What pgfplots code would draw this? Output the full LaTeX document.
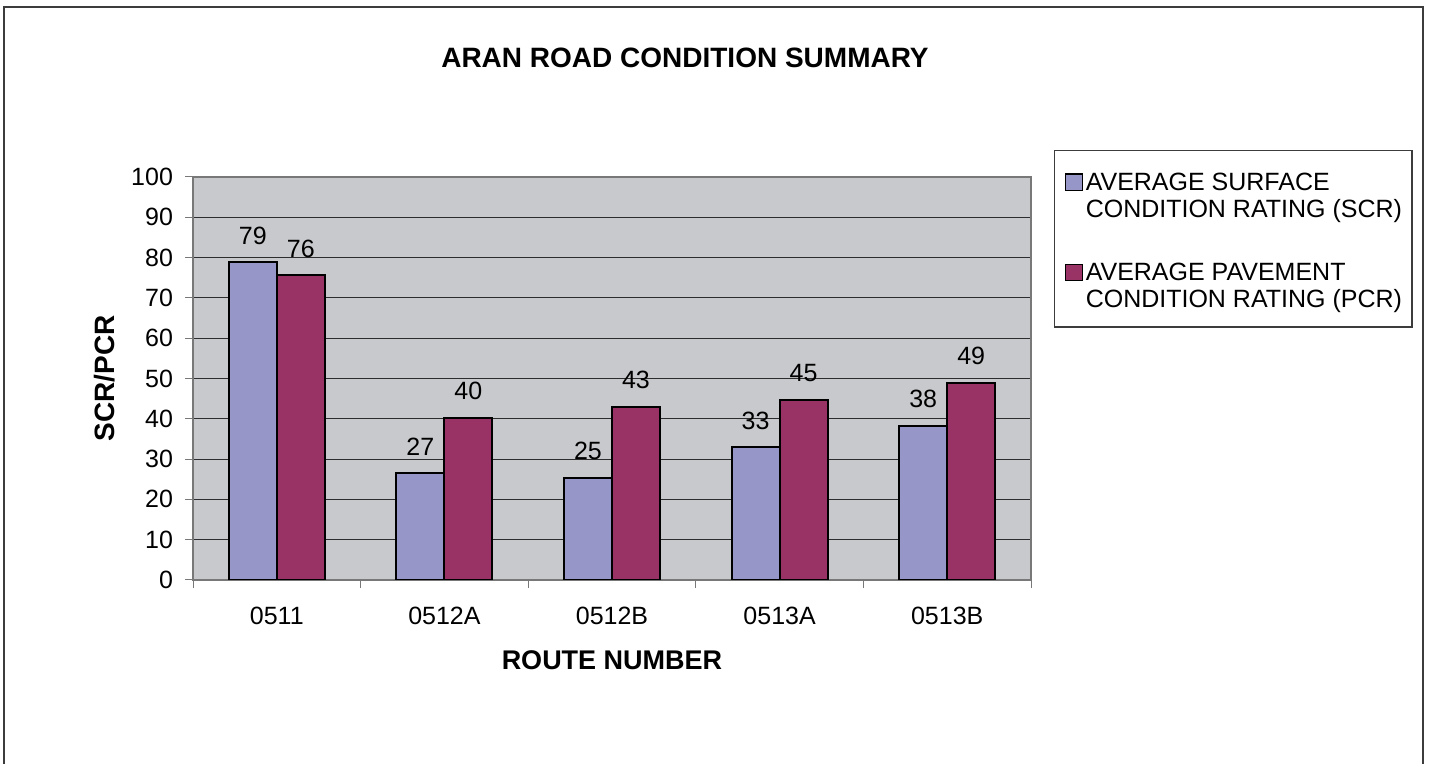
\documentclass[border=0pt]{standalone}
\usepackage{pgfplots}
\pgfplotsset{compat=1.18}
\usepackage{fontspec}
\setmainfont{Liberation Sans}
\definecolor{scr}{RGB}{150,150,200}
\definecolor{pcr}{RGB}{153,51,102}
\definecolor{plotbg}{RGB}{200,201,204}
\definecolor{gridc}{RGB}{45,45,45}
\definecolor{axisc}{RGB}{120,120,120}
\definecolor{framec}{RGB}{60,60,60}
\begin{document}
\begin{tikzpicture}
\useasboundingbox (0pt,0pt) rectangle (715.5pt,382pt);
\draw[framec, line width=0.8pt] (2pt,-2pt) -- (2pt,378.5pt) -- (711.5pt,378.5pt) -- (711.5pt,-2pt);
\node[anchor=base, font=\fontsize{14}{16.8}\selectfont\bfseries] at (342.5pt,348pt) {ARAN ROAD CONDITION SUMMARY};
\begin{axis}[
  at={(96.5pt,92pt)}, anchor=south west,
  scale only axis, width=419pt, height=201.5pt,
  ybar=0pt, bar width=24pt,
  xmin=-0.5, xmax=4.5, ymin=0, ymax=100,
  axis background/.style={fill=plotbg},
  axis line style={draw=axisc, line width=0.6pt},
  xtick={0,1,2,3,4},
  xticklabels={0511,0512A,0512B,0513A,0513B},
  minor xtick={-0.5,0.5,1.5,2.5,3.5,4.5},
  major x tick style={draw=none},
  minor x tick style={draw=axisc, line width=0.5pt},
  minor tick length=4pt,
  ytick={0,10,...,100},
  y tick style={draw=axisc, line width=0.5pt},
  major tick length=4pt,
  tick align=outside,
  xtick pos=lower, ytick pos=left,
  ymajorgrids, grid style={draw=gridc, line width=0.5pt},
  /pgf/number format/assume math mode=true,
  tick label style={font=\fontsize{12.5}{15}\selectfont},
  xticklabel style={anchor=base, yshift=-18.5pt},
  yticklabel style={xshift=-2.5pt},
  xlabel={ROUTE NUMBER},
  xlabel style={at={(axis description cs:0.5,-0.2233)}, anchor=base, font=\fontsize{13.5}{16}\selectfont\bfseries},
  ylabel={SCR/PCR},
  ylabel style={at={(axis description cs:-0.0931,0.5)}, anchor=base, font=\fontsize{14}{16.8}\selectfont\bfseries},
  point meta=explicit symbolic,
  nodes near coords={\pgfplotspointmeta},
  nodes near coords style={font=\fontsize{12.5}{15}\selectfont, yshift=5pt},
  every axis legend/.style={
    at={(axis description cs:1.0274,1.067)}, anchor=north west,
    draw=framec, line width=0.6pt, fill=white,
    inner xsep=5pt, inner ysep=7pt,
    cells={anchor=base west, align=left},
    nodes={inner sep=0pt, font=\fontsize{12.5}{13.5}\selectfont},
    column sep=1.5pt, row sep=20.3pt,
  },
  legend image code/.code={\draw[#1, draw=black, line width=0.6pt] (0pt,13.5pt) rectangle (8.5pt,21.8pt);},
]
\addplot[fill=scr, draw=black, line width=1pt] coordinates {
  (0,78.8) [79] (1,26.5) [27] (2,25.4) [25] (3,32.9) [33] (4,38.3) [38]
};
\addplot[fill=pcr, draw=black, line width=1pt] coordinates {
  (0,75.7) [76] (1,40.3) [40] (2,43.0) [43] (3,44.7) [45] (4,49.0) [49]
};
\legend{{\rule{0pt}{13pt}AVERAGE SURFACE\\CONDITION RATING (SCR)},{AVERAGE PAVEMENT\\CONDITION RATING (PCR)}}
\end{axis}
\end{tikzpicture}
\end{document}
